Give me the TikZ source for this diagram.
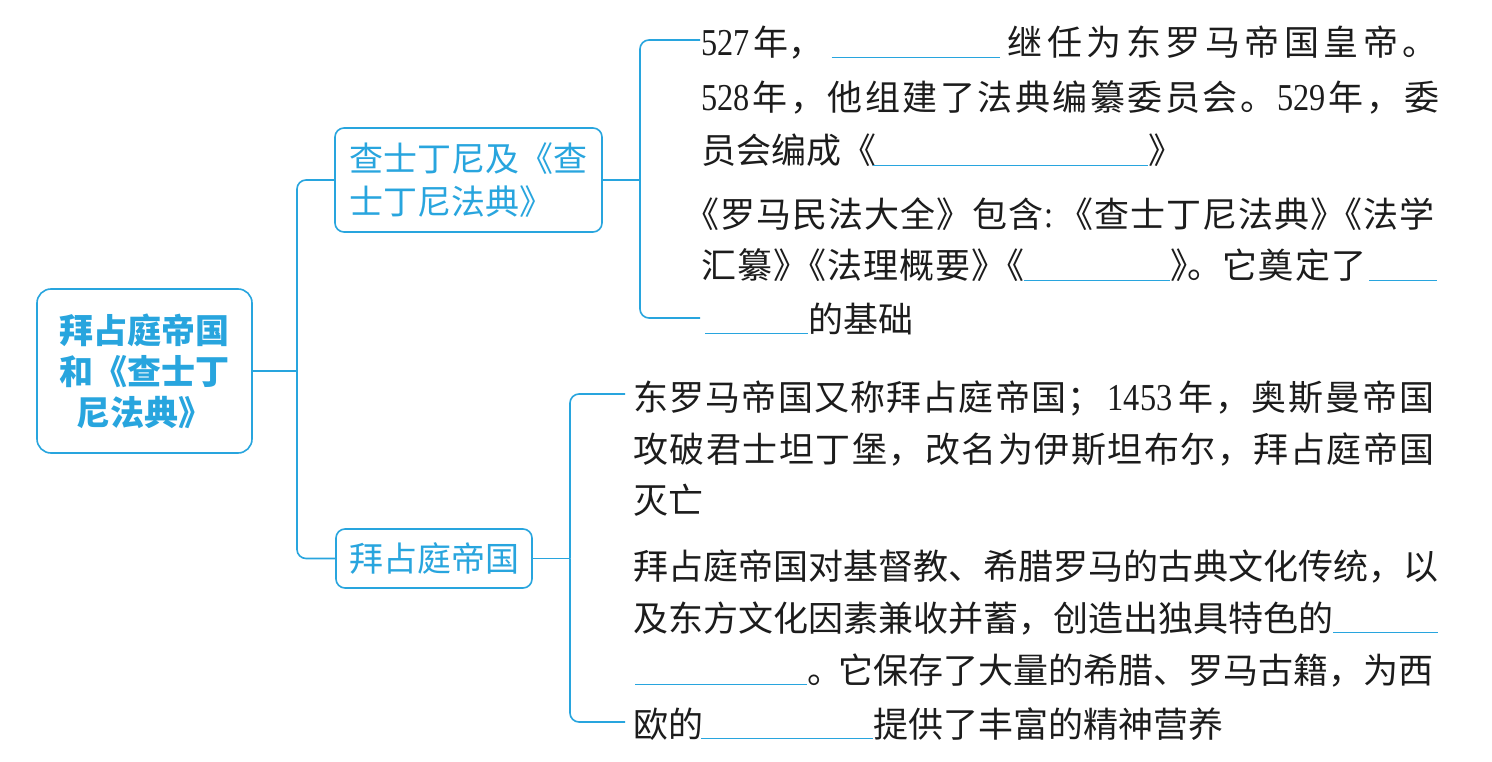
\documentclass[tikz,border=0pt]{standalone}
\usepackage{fontspec}
\newfontfamily\cjkn{Noto Sans CJK SC}
\newfontfamily\lat[FakeStretch=0.85]{Liberation Serif}
\definecolor{mblue}{RGB}{40,165,222}
\definecolor{ink}{RGB}{28,28,28}
\newcommand\blank[1]{{\color{mblue}\rule[-2pt]{#1pt}{1.4pt}}}
\newcommand\dg[1]{{\lat\fontsize{38}{38}\selectfont #1}}
\makeatletter
\newcommand\spx[2]{\def\sp@x{#1}\sp@loop#2\sp@stop}
\def\sp@stop{\sp@stop}
\def\sp@loop#1{\ifx#1\sp@stop\else#1\kern\sp@x pt\relax\expandafter\sp@loop\fi}
\makeatother
\tikzset{
  conn/.style={draw=mblue, line width=1.6pt},
  rconn/.style={conn, rounded corners=9pt},
  topbox/.style={draw=mblue, line width=1.6pt, rounded corners=14pt, text=mblue,
    minimum width=215pt, minimum height=164pt, align=center, inner sep=0pt,
    font=\cjkn\bfseries\fontsize{34}{41}\selectfont},
  subbox/.style={draw=mblue, line width=1.6pt, rounded corners=9pt, text=mblue,
    align=left, inner sep=0pt, font=\cjkn\fontsize{34}{43}\selectfont},
  ln/.style={anchor=base west, inner sep=0pt, text=ink, font=\cjkn\fontsize{35}{35}\selectfont},
}
\begin{document}
\begin{tikzpicture}[x=1pt,y=-1pt]
\fill[white] (0,0) rectangle (1492,762);
\useasboundingbox (0,0) rectangle (1492,762);

% boxes
\node[topbox] (root) at (144.5,371) {拜占庭帝国\\和《查士丁\\尼法典》};
\node[subbox, minimum width=267pt, minimum height=104pt] (b2) at (468.5,180) {查士丁尼及《查\\士丁尼法典》};
\node[subbox, minimum width=196pt, minimum height=59pt] (b3) at (434,558.5) {拜占庭帝国};

% junctions and free ends
\coordinate (j0) at (297,371);
\coordinate (j1) at (640,180);
\coordinate (e1a) at (700,40);
\coordinate (e1b) at (700,318);
\coordinate (j2) at (570,558.5);
\coordinate (e2a) at (625,394);
\coordinate (e2b) at (625,722);

\draw[conn] (root.east) -- (j0);
\draw[rconn] (j0) |- (b2.west);
\draw[rconn] (j0) |- (b3.west);
\draw[conn] (b2.east) -- (j1);
\draw[rconn] (j1) |- (e1a);
\draw[rconn] (j1) |- (e1b);
\draw[conn] (b3.east) -- (j2);
\draw[rconn] (j2) |- (e2a);
\draw[rconn] (j2) |- (e2b);

% block 1
\node[ln] (a1) at (701,56) {\dg{527}\hspace{4pt}年，\hspace{8pt}\blank{168}\hspace{8pt}\spx{4.5}{继任为东罗马帝国皇帝。}};
\node[ln] (a2) at (701,111) {\dg{528}\hspace{3pt}\spx{2.5}{年，他组建了法典编纂委员会。}\dg{529}\hspace{2pt}\spx{3}{年，委}};
\node[ln] (a3) at (701,164) {员会编成《\hspace{-3pt}\blank{275}》};
\node[ln] (a4) at (684,228) {\spx{1}{《罗马民法大全》包含}\dg{:}\hspace{5pt}\spx{1}{《查士丁尼法典》}\hspace{-19pt}\spx{1}{《法学}};
\node[ln] (a5) at (701,279) {\spx{1}{汇纂》}\hspace{-18pt}\spx{1}{《法理概要》}\hspace{-18pt}《\blank{146}》\hspace{-18pt}。\spx{1.5}{它奠定了}\hspace{1pt}\blank{68}};
\node[ln] (a6) at (701,332) {\hspace{4pt}\blank{103}的基础};

% block 2
\node[ln] (c1) at (633,410) {\spx{1.2}{东罗马帝国又称拜占庭帝国；}\hspace{4pt}\dg{1453}\hspace{6pt}\spx{1.8}{年，奥斯曼帝国}};
\node[ln] (c2) at (633,462) {\spx{1.5}{攻破君士坦丁堡，改名为伊斯坦布尔，拜占庭帝国}};
\node[ln] (c3) at (633,513) {灭亡};

% block 3
\node[ln] (d1) at (633,579) {拜占庭帝国对基督教、希腊罗马的古典文化传统，以};
\node[ln] (d2) at (633,631) {及东方文化因素兼收并蓄，创造出独具特色的\blank{105}};
\node[ln] (d3) at (633,683) {\hspace{2pt}\blank{172}。\hspace{-4pt}它保存了大量的希腊、罗马古籍，为西};
\node[ln] (d4) at (633,737) {欧的\hspace{-2pt}\blank{172}提供了丰富的精神营养};
\end{tikzpicture}
\end{document}
